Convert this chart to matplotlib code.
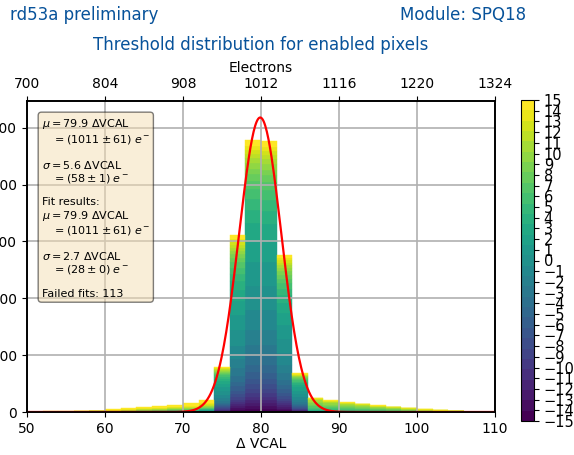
import numpy as np
import matplotlib
matplotlib.use("Agg")
import matplotlib.pyplot as plt
from matplotlib import colors as mcolors
from matplotlib.cm import ScalarMappable

# ---------------- data ----------------
bin_edges = [50, 52, 54, 56, 58, 60, 62, 64, 66, 68, 70, 72, 74, 76, 78, 80,
             82, 84, 86, 88, 90, 92, 94, 96, 98, 100, 102, 104, 106, 108, 110]
bin_totals = [8, 10, 12, 15, 22, 45, 70, 90, 105, 130, 150, 218, 795, 3105, 4790,
              4770, 2770, 685, 250, 205, 170, 145, 115, 90, 65, 45, 28, 15, 8, 5]
# which TDAC profile each bin uses: 0 = low tail, 1 = core, 2 = high tail
bin_profile = [0, 0, 0, 0, 0, 0, 0, 0, 0, 0, 0, 0, 1, 1, 1,
               1, 1, 1, 2, 2, 2, 2, 2, 2, 2, 2, 2, 2, 2, 2]
tdac_values = list(range(-15, 16))
# fraction of pixels per TDAC (-15 ... 15)
profile_low = [0.004, 0.004, 0.004, 0.004, 0.004, 0.004, 0.005, 0.005, 0.006, 0.006,
               0.008, 0.010, 0.012, 0.015, 0.018, 0.020, 0.022, 0.025, 0.028, 0.030,
               0.032, 0.034, 0.036, 0.040, 0.045, 0.050, 0.055, 0.060, 0.070, 0.090, 0.30]
profile_core = [0.012, 0.010, 0.010, 0.012, 0.012, 0.014, 0.016, 0.018, 0.020, 0.024,
                0.028, 0.034, 0.042, 0.055, 0.075, 0.090, 0.090, 0.080, 0.065, 0.048,
                0.042, 0.036, 0.030, 0.026, 0.022, 0.020, 0.018, 0.016, 0.016, 0.016, 0.022]
profile_high = [0.003, 0.003, 0.003, 0.003, 0.003, 0.003, 0.003, 0.003, 0.003, 0.003,
                0.003, 0.004, 0.005, 0.006, 0.008, 0.010, 0.015, 0.020, 0.030, 0.040,
                0.060, 0.080, 0.100, 0.110, 0.110, 0.100, 0.090, 0.070, 0.050, 0.030, 0.020]

fit_mu = 79.9
fit_sigma = 2.7
fit_amplitude = 5180

x_ticks = [50, 60, 70, 80, 90, 100, 110]
electron_ticks = [700, 804, 908, 1012, 1116, 1220, 1324]
y_ticks = [0, 1000, 2000, 3000, 4000, 5000]

info_text = ("$\\mu=79.9$ \u0394VCAL\n"
             "   $=(1011\\pm61)\\;e^-$\n\n"
             "$\\sigma=5.6$ \u0394VCAL\n"
             "   $=(58\\pm1)\\;e^-$\n\n"
             "Fit results:\n"
             "$\\mu=79.9$ \u0394VCAL\n"
             "   $=(1011\\pm61)\\;e^-$\n\n"
             "$\\sigma=2.7$ \u0394VCAL\n"
             "   $=(28\\pm0)\\;e^-$\n\n"
             "Failed fits: 113")

# ---------------- figure ----------------
W, H = 574, 455
fig = plt.figure(figsize=(W / 100, H / 100), dpi=100)
TITLE_COLOR = "#07529a"

def px_axes(x0, y0, x1, y1):
    return [x0 / W, 1 - y1 / H, (x1 - x0) / W, (y1 - y0) / H]

ax = fig.add_axes(px_axes(27, 101, 495, 412))

cmap = plt.get_cmap("viridis", 31)
norm = mcolors.Normalize(vmin=-15, vmax=15)

edges = np.array(bin_edges, dtype=float)
centers = 0.5 * (edges[:-1] + edges[1:])
widths = np.diff(edges)
profiles = [np.array(profile_low), np.array(profile_core), np.array(profile_high)]
profiles = [p / p.sum() for p in profiles]
counts = np.array([bin_totals[i] * profiles[bin_profile[i]] for i in range(len(bin_totals))])

bottom = np.zeros(len(centers))
for j, t in enumerate(tdac_values):
    c = cmap(norm(t))
    ax.bar(centers, counts[:, j], width=widths, bottom=bottom, color=c,
           edgecolor=c, linewidth=0.3, align="center")
    bottom += counts[:, j]

xf = np.linspace(50, 110, 600)
ax.plot(xf, fit_amplitude * np.exp(-(xf - fit_mu) ** 2 / (2 * fit_sigma ** 2)),
        color="red", lw=1.6, zorder=3)

ax.set_xlim(50, 110)
ax.set_ylim(0, 5470)
ax.set_xticks(x_ticks)
ax.set_yticks(y_ticks)
ax.tick_params(labelsize=10)
ax.grid(True, color="#b0b0b0", lw=1.2)
ax.set_xlabel("\u0394 VCAL", fontsize=10, labelpad=1)
for s in ax.spines.values():
    s.set_linewidth(1.2)

ax2 = ax.twiny()
ax2.set_xlim(50, 110)
ax2.set_xticks(x_ticks)
ax2.set_xticklabels([str(v) for v in electron_ticks])
ax2.tick_params(labelsize=10)
ax2.set_xlabel("Electrons", fontsize=10, labelpad=4)
for s in ax2.spines.values():
    s.set_linewidth(1.2)

ax.text(0.031, 0.947, info_text, transform=ax.transAxes, fontsize=8, va="top",
        ha="left", linespacing=1.15,
        bbox=dict(boxstyle="round", facecolor="wheat", alpha=0.5), zorder=5)

cax = fig.add_axes(px_axes(521, 100, 534, 421))
sm = ScalarMappable(norm=norm, cmap=cmap)
cb = fig.colorbar(sm, cax=cax, ticks=tdac_values)
cb.ax.tick_params(labelsize=10.5)

fig.text(10 / W, 1 - 15 / H, "rd53a preliminary", color=TITLE_COLOR, fontsize=12,
         ha="left", va="center")
fig.text(526 / W, 1 - 15 / H, "Module: SPQ18", color=TITLE_COLOR, fontsize=12,
         ha="right", va="center")
fig.text(261 / W, 1 - 45 / H, "Threshold distribution for enabled pixels",
         color=TITLE_COLOR, fontsize=12, ha="center", va="center")

fig.savefig("out.png", dpi=100)
